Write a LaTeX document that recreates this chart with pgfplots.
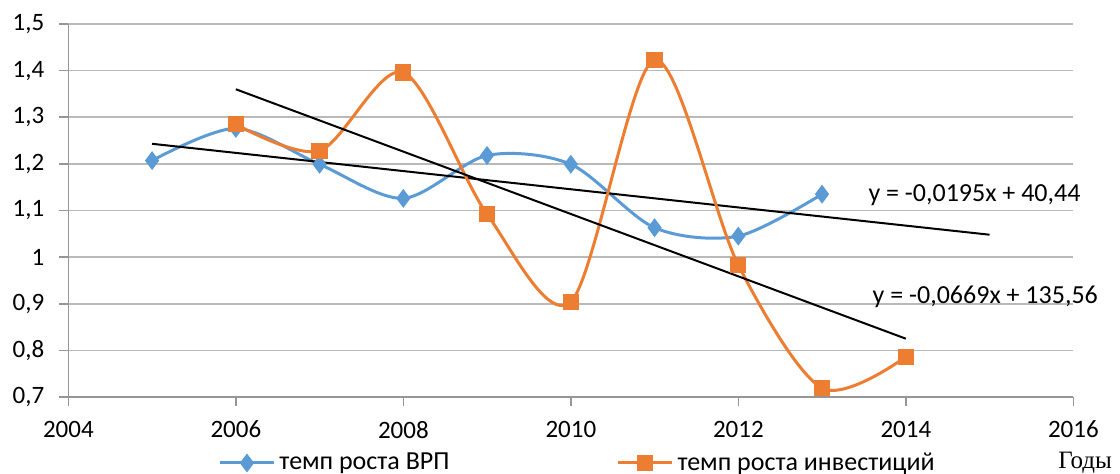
\documentclass[border=0pt]{standalone}
\usepackage{fontspec}
\setmainfont{Carlito}
\newfontfamily\timesfont{Liberation Serif}
\usepackage{pgfplots}
\pgfplotsset{compat=1.18}

\definecolor{vrp}{RGB}{91,155,213}
\definecolor{inv}{RGB}{237,125,49}
\definecolor{gridgray}{RGB}{185,185,185}
\definecolor{axisgray}{RGB}{150,150,150}

\begin{document}
\begin{tikzpicture}
\begin{axis}[
  width=502.5pt, height=186.5pt, scale only axis,
  xmin=2004, xmax=2016, ymin=0.7, ymax=1.5,
  xtick distance=2, ytick distance=0.1,
  axis lines=left,
  axis line style={-, axisgray, line width=0.8pt},
  tick align=outside, major tick length=4.5pt,
  tick style={axisgray, line width=0.8pt},
  ymajorgrids, grid style={gridgray, line width=0.8pt},
  clip=false,
  tick label style={font=\fontsize{12.5}{15}\selectfont},
  /pgf/number format/assume math mode=true,
  yticklabel style={/pgf/number format/fixed, /pgf/number format/use comma,
    /pgf/number format/precision=1, xshift=-4pt},
  xticklabel style={/pgf/number format/1000 sep={}, yshift=-4pt},
  legend columns=2,
  legend style={draw=none, fill=none, inner sep=0pt,
    at={(0.149,-0.177)}, anchor=west,
    font=\fontsize{13}{15}\selectfont,
    /tikz/every even column/.append style={column sep=81.5pt}},
  legend image code/.code={\draw[mark repeat=2,mark phase=2,#1] plot coordinates {(0pt,0pt) (13.5pt,0pt) (27pt,0pt)};},
]
% темп роста ВРП
\addplot[vrp, line width=1.5pt, smooth, mark=diamond*, mark size=3.5pt] coordinates {
(2005,1.207) (2006,1.276) (2007,1.199) (2008,1.126) (2009,1.218)
(2010,1.199) (2011,1.063) (2012,1.045) (2013,1.135)
};
\addlegendentry{темп роста ВРП}
\addplot[black, line width=1pt, forget plot] coordinates {(2005,1.243) (2015,1.048)};
% темп роста инвестиций
\addplot[inv, line width=1.5pt, smooth, mark=square*, mark size=3.3pt] coordinates {
(2006,1.285) (2007,1.228) (2008,1.396) (2009,1.092) (2010,0.904)
(2011,1.423) (2012,0.983) (2013,0.719) (2014,0.786)
};
\addlegendentry{темп роста инвестиций}
\addplot[black, line width=1pt, forget plot] coordinates {(2006,1.360) (2014,0.825)};

\node[anchor=west, inner sep=0pt, font=\fontsize{13}{15}\selectfont] at (axis cs:2013.55,1.133) {y = -0,0195x + 40,44};
\node[anchor=west, inner sep=0pt, font=\fontsize{13}{15}\selectfont] at (axis cs:2013.6,0.915) {y = -0,0669x + 135,56};
\node[font=\timesfont\fontsize{12.5}{15}\selectfont] at (axis description cs:1.0117,-0.177) {Годы};

\coordinate (bbll) at (axis description cs:-0.068,-0.2064);
\coordinate (bbur) at (axis description cs:1.0465,1.0643);
\end{axis}
\pgfresetboundingbox
\useasboundingbox (bbll) rectangle (bbur);
\end{tikzpicture}
\end{document}
